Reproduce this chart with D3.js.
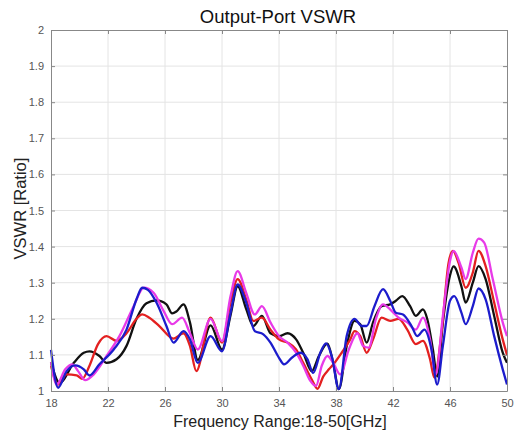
<!DOCTYPE html>
<html>
<head>
<meta charset="utf-8">
<script src="https://cdn.jsdelivr.net/npm/d3@7"></script>
<style>
  body { margin: 0; background: #fff; }
  svg text { font-family: "Liberation Sans", Arial, sans-serif; }
</style>
</head>
<body>
<svg id="chart" width="514" height="434"></svg>
<script>
const xTicks = [18, 22, 26, 30, 34, 38, 42, 46, 50];
const yTicks = [1, 1.1, 1.2, 1.3, 1.4, 1.5, 1.6, 1.7, 1.8, 1.9, 2];

// [frequency GHz, VSWR]
const black = [[18,1.08],[18.6,1.023],[19.6,1.078],[20.3,1.106],[20.7,1.11],[21.4,1.097],[21.9,1.078],[22.6,1.088],[23.3,1.125],[24.0,1.2],[24.7,1.243],[25.4,1.251],[26.1,1.24],[26.5,1.215],[26.8,1.22],[27.3,1.24],[27.75,1.19],[28.3,1.086],[29.2,1.182],[30.0,1.115],[30.6,1.21],[31.1,1.29],[31.7,1.227],[32.2,1.18],[32.8,1.208],[33.4,1.16],[34.0,1.152],[34.6,1.16],[35.2,1.143],[35.7,1.106],[36.3,1.055],[36.8,1.097],[37.4,1.131],[37.8,1.078],[38.2,1.005],[38.75,1.125],[39.3,1.194],[39.7,1.185],[40.15,1.134],[40.6,1.19],[41.2,1.235],[41.8,1.24],[42.2,1.25],[42.65,1.263],[43.2,1.235],[43.6,1.208],[44.1,1.226],[44.4,1.2],[44.8,1.115],[45.1,1.04],[45.5,1.19],[46.0,1.32],[46.25,1.345],[46.8,1.29],[47.1,1.245],[47.6,1.3],[48.0,1.346],[48.5,1.31],[49.1,1.208],[49.7,1.106],[50,1.078]];

const red = [[18,1.07],[18.5,1.018],[19.1,1.046],[19.8,1.043],[20.2,1.034],[20.7,1.07],[21.3,1.13],[21.9,1.152],[22.6,1.139],[23.3,1.16],[24.0,1.2],[24.4,1.212],[24.9,1.203],[25.6,1.18],[26.6,1.145],[27.3,1.16],[27.75,1.125],[28.2,1.055],[29.2,1.203],[30.0,1.134],[30.6,1.245],[31.1,1.31],[31.7,1.254],[32.2,1.194],[32.8,1.203],[33.4,1.17],[34.0,1.143],[34.6,1.134],[35.2,1.115],[35.7,1.078],[36.3,1.032],[36.7,1.006],[37.1,1.04],[37.5,1.06],[37.9,1.078],[38.4,1.106],[39.0,1.143],[39.3,1.166],[39.7,1.152],[40.15,1.106],[40.6,1.143],[41.2,1.203],[41.8,1.194],[42.4,1.2],[43.0,1.17],[43.6,1.13],[44.1,1.139],[44.6,1.088],[44.9,1.037],[45.4,1.16],[45.9,1.355],[46.2,1.388],[46.6,1.355],[47.1,1.286],[47.6,1.328],[48.0,1.388],[48.5,1.346],[49.1,1.245],[49.7,1.143],[50,1.1]];

const magenta = [[18,1.08],[18.4,1.018],[19.0,1.06],[19.5,1.074],[19.9,1.055],[20.4,1.03],[21.0,1.046],[21.9,1.097],[22.8,1.152],[23.8,1.235],[24.5,1.286],[25.2,1.272],[25.9,1.222],[26.5,1.185],[27.2,1.203],[27.75,1.16],[28.3,1.115],[29.2,1.2],[30.0,1.138],[30.6,1.263],[31.1,1.332],[31.7,1.272],[32.3,1.212],[32.8,1.235],[33.4,1.19],[34.0,1.152],[34.6,1.134],[35.2,1.106],[35.7,1.07],[36.2,1.028],[36.6,1.014],[37.0,1.07],[37.4,1.097],[37.8,1.078],[38.3,1.046],[38.9,1.115],[39.5,1.16],[39.9,1.125],[40.3,1.12],[40.8,1.2],[41.3,1.24],[41.9,1.222],[42.4,1.203],[43.0,1.19],[43.6,1.17],[44.1,1.203],[44.6,1.143],[45.0,1.046],[45.5,1.208],[46.0,1.36],[46.25,1.388],[46.8,1.342],[47.1,1.31],[47.6,1.383],[48.0,1.422],[48.4,1.411],[49.0,1.31],[49.7,1.19],[50,1.152]];

const blue = [[18,1.114],[18.5,1.009],[19.1,1.055],[19.7,1.071],[20.3,1.06],[20.7,1.043],[21.4,1.074],[22.4,1.115],[23.3,1.17],[24.0,1.254],[24.4,1.286],[24.8,1.28],[25.4,1.245],[26.1,1.18],[26.6,1.134],[27.3,1.166],[27.75,1.143],[28.3,1.078],[29.2,1.152],[30.0,1.11],[30.6,1.217],[31.1,1.295],[31.7,1.245],[32.3,1.166],[32.9,1.157],[33.4,1.134],[34.0,1.092],[34.35,1.074],[34.9,1.092],[35.5,1.106],[36.0,1.088],[36.4,1.05],[36.9,1.106],[37.3,1.132],[37.7,1.097],[38.2,1.005],[38.75,1.152],[39.3,1.2],[39.8,1.18],[40.15,1.18],[40.7,1.235],[41.3,1.282],[41.8,1.25],[42.2,1.217],[42.7,1.212],[43.3,1.18],[43.7,1.152],[44.2,1.17],[44.7,1.115],[45.1,1.018],[45.5,1.125],[46.0,1.25],[46.3,1.263],[46.8,1.217],[47.1,1.185],[47.6,1.235],[48.0,1.284],[48.5,1.254],[49.1,1.152],[49.7,1.06],[50,1.018]];

const series = [
  { name: 'black', color: '#111111', values: black },
  { name: 'red', color: '#e32020', values: red },
  { name: 'magenta', color: '#e83ae8', values: magenta },
  { name: 'blue', color: '#1c1ccc', values: blue }
];

const svg = d3.select('#chart');
const margin = { left: 51, right: 7, top: 30, bottom: 43 };
const width = 514 - margin.left - margin.right;
const height = 434 - margin.top - margin.bottom;

const x = d3.scaleLinear().domain([18, 50]).range([0, width]);
const y = d3.scaleLinear().domain([1, 2]).range([height, 0]);

const g = svg.append('g').attr('transform', `translate(${margin.left},${margin.top})`);

// grid
g.append('g').selectAll('line').data(xTicks.slice(1, -1)).join('line')
  .attr('x1', d => x(d)).attr('x2', d => x(d)).attr('y1', 0).attr('y2', height)
  .attr('stroke', '#e4e4e4').attr('stroke-width', 1);
g.append('g').selectAll('line').data(yTicks.slice(1, -1)).join('line')
  .attr('x1', 0).attr('x2', width).attr('y1', d => y(d)).attr('y2', d => y(d))
  .attr('stroke', '#e4e4e4').attr('stroke-width', 1);

const line = d3.line()
  .x(d => x(d[0]))
  .y(d => y(d[1]))
  .curve(d3.curveMonotoneX);

g.append('g').selectAll('path').data(series).join('path')
  .attr('d', d => line(d.values))
  .attr('fill', 'none')
  .attr('stroke', d => d.color)
  .attr('stroke-width', 2.3)
  .attr('stroke-linejoin', 'round');

// axes (ticks inward, box)
const axStyle = sel => {
  sel.select('.domain').attr('stroke', '#888');
  sel.selectAll('.tick line').attr('stroke', '#888');
  sel.selectAll('.tick text').attr('fill', '#555').style('font-size', '11px');
};
g.append('g').attr('transform', `translate(0,${height})`)
  .call(d3.axisBottom(x).tickValues(xTicks).tickSize(-4).tickSizeOuter(0).tickPadding(8).tickFormat(d3.format('d')))
  .call(axStyle);
g.append('g')
  .call(d3.axisLeft(y).tickValues(yTicks).tickSize(-4).tickSizeOuter(0).tickPadding(7).tickFormat(d => d3.format('')(+d.toFixed(1))))
  .call(axStyle);
g.append('g')
  .call(d3.axisTop(x).tickValues(xTicks).tickSize(-4).tickSizeOuter(0).tickFormat(''))
  .call(axStyle);
g.append('g').attr('transform', `translate(${width},0)`)
  .call(d3.axisRight(y).tickValues(yTicks).tickSize(-4).tickSizeOuter(0).tickFormat(''))
  .call(axStyle);

// labels
svg.append('text').attr('x', margin.left + width / 2 - 1).attr('y', 23)
  .attr('text-anchor', 'middle').style('font-size', '18.5px').attr('fill', '#111')
  .text('Output-Port VSWR');
svg.append('text').attr('x', margin.left + width / 2 + 1).attr('y', 427)
  .attr('text-anchor', 'middle').style('font-size', '16px').attr('fill', '#222')
  .text('Frequency Range:18-50[GHz]');
svg.append('text')
  .attr('transform', `translate(26,${margin.top + height / 2 - 2}) rotate(-90)`)
  .attr('text-anchor', 'middle').style('font-size', '16.5px').attr('fill', '#222')
  .text('VSWR [Ratio]');
</script>
</body>
</html>
